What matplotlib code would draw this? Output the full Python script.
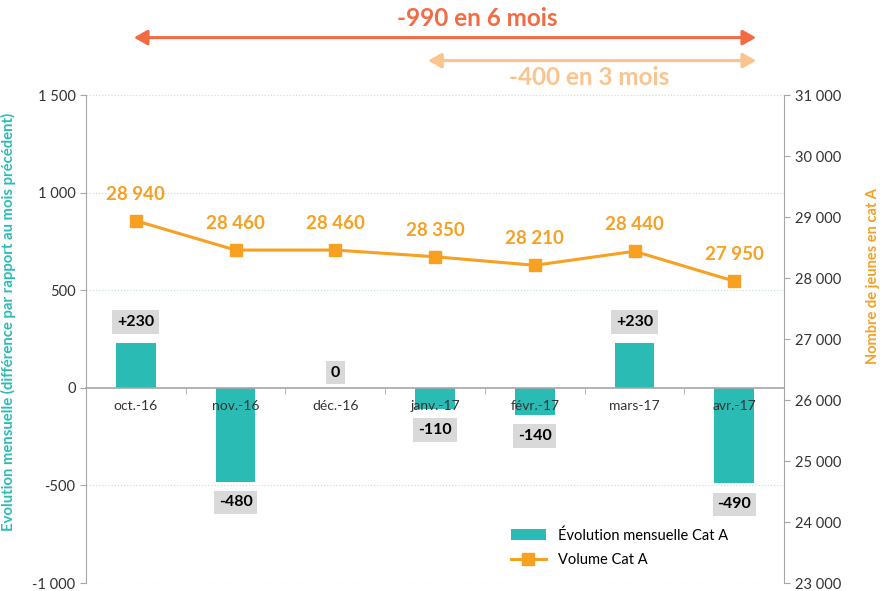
import numpy as np
import matplotlib.pyplot as plt

plt.rcParams['font.family'] = ['Lato', 'DejaVu Sans']

months = ['oct.-16', 'nov.-16', 'déc.-16', 'janv.-17', 'févr.-17', 'mars-17', 'avr.-17']
evolution = [230, -480, 0, -110, -140, 230, -490]
volume = [28940, 28460, 28460, 28350, 28210, 28440, 27950]

left_ticks = [-1000, -500, 0, 500, 1000, 1500]
right_ticks = [23000, 24000, 25000, 26000, 27000, 28000, 29000, 30000, 31000]

TEAL = '#2BBBB5'
ORANGE = '#F7A021'
RED = '#F26B43'
PEACH = '#FBC48F'
GRID = '#BFE6E2'
AXIS = '#A6A6A6'


def fmt(v):
    s = f'{abs(v):,}'.replace(',', ' ')
    return ('-' if v < 0 else '') + s


fig = plt.figure(figsize=(8.86, 5.91), dpi=100)
ax = fig.add_axes([0.097, 0.0135, 0.788, 0.8255])
ax2 = ax.twinx()

x = np.arange(len(months))

# grid on the left axis
ax.set_ylim(-1000, 1500)
ax.set_xlim(-0.5, len(months) - 0.5)
for t in left_ticks:
    if t != 0:
        ax.axhline(t, color=GRID, lw=0.9, ls=(0, (1, 1.5)), zorder=0)

bars = ax.bar(x, evolution, width=0.4, color=TEAL, zorder=3,
              label='Évolution mensuelle Cat A')

# x axis on zero, drawn over the bars
ax.spines['bottom'].set_position(('data', 0))
ax.spines['bottom'].set_color(AXIS)
ax.spines['bottom'].set_linewidth(1.2)
ax.spines['bottom'].set_zorder(4)
ax.spines['top'].set_visible(False)
ax.spines['left'].set_color(AXIS)
ax.spines['right'].set_visible(False)
ax.xaxis.set_zorder(4)
ax.set_xticks(x)
ax.set_xticklabels(months, fontsize=10, color='#333333')
ax.tick_params(axis='x', length=0, pad=9)
ax.set_xticks(np.arange(-0.5, len(months), 1), minor=True)
ax.tick_params(axis='x', which='minor', length=4, color=AXIS, direction='out')

ax.set_yticks(left_ticks)
ax.set_yticklabels([fmt(t) for t in left_ticks], fontsize=10.5, color='#333333')
ax.tick_params(axis='y', length=4, color=AXIS)
ax.set_ylabel('Évolution mensuelle (différence par rapport au mois précédent)',
              color=TEAL, fontsize=10.7, fontweight='bold')
ax.yaxis.set_label_coords(-0.1, 0.535)

# bar labels
box = dict(boxstyle='square,pad=0.3', fc='#D9D9D9', ec='none')
for xi, v in zip(x, evolution):
    txt = ('+' if v > 0 else '') + fmt(v)
    if v > 0:
        off = 15
    elif v == 0:
        off = 11
    else:
        off = -15
    ax.annotate(txt, (xi, v), xytext=(0, off), textcoords='offset points',
                ha='center', va='center', fontsize=11.5, fontweight='bold',
                bbox=box, zorder=6)

# volume line
ax2.set_ylim(23000, 31000)
line, = ax2.plot(x, volume, color=ORANGE, lw=2.2, marker='s', markersize=8,
                 label='Volume Cat A', zorder=4)
for xi, v in zip(x, volume):
    ax2.annotate(fmt(v), (xi, v), xytext=(0, 19), textcoords='offset points',
                 ha='center', va='center', fontsize=13.5, fontweight='bold', color=ORANGE)
ax2.set_yticks(right_ticks)
ax2.set_yticklabels([fmt(t) for t in right_ticks], fontsize=10.5, color='#333333')
ax2.tick_params(axis='y', length=4, color=AXIS)
ax2.spines['right'].set_color(AXIS)
ax2.spines['top'].set_visible(False)
ax2.spines['left'].set_visible(False)
ax2.spines['bottom'].set_visible(False)
ax2.set_ylabel('Nombre de jeunes en cat A', color=ORANGE, fontsize=10.5,
               fontweight='bold')
ax2.yaxis.set_label_coords(1.118, 0.63)

# arrows on top
ax.annotate('', xy=(-0.02, 1795), xytext=(6.22, 1795), annotation_clip=False,
            arrowprops=dict(arrowstyle='<|-|>,head_length=0.8,head_width=0.45',
                            color=RED, lw=2.2, shrinkA=0, shrinkB=0))
ax.text(3.42, 1893, '-990 en 6 mois', ha='center', va='center', color=RED,
        fontsize=17.5, fontweight='bold', clip_on=False)
ax.annotate('', xy=(2.93, 1677), xytext=(6.22, 1677), annotation_clip=False,
            arrowprops=dict(arrowstyle='<|-|>,head_length=0.8,head_width=0.45',
                            color=PEACH, lw=2.2, shrinkA=0, shrinkB=0))
ax.text(4.55, 1590, '-400 en 3 mois', ha='center', va='center', color=PEACH,
        fontsize=17.5, fontweight='bold', clip_on=False)

ax.legend([bars, line], ['Évolution mensuelle Cat A', 'Volume Cat A'],
          loc='lower left', bbox_to_anchor=(0.59, 0.005), frameon=False,
          fontsize=10.5, handlelength=2.4, labelspacing=0.75)

fig.savefig('out.png', dpi=100)
